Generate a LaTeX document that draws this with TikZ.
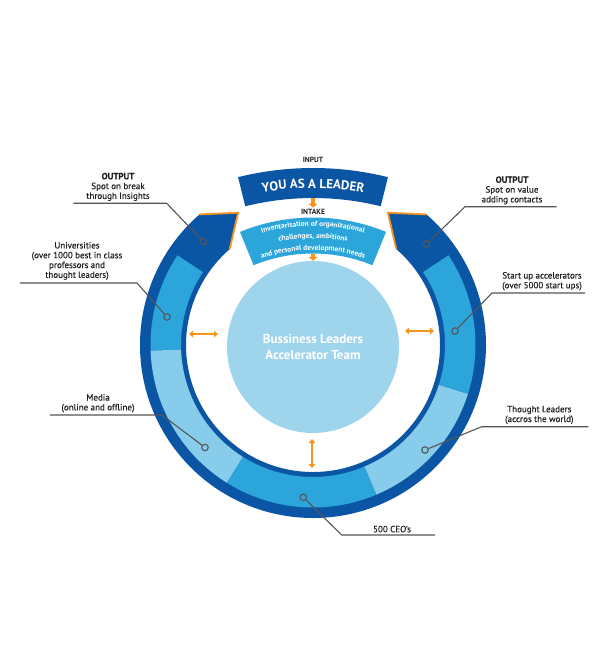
\documentclass[tikz,border=0pt]{standalone}
\usepackage{fontspec}
\setmainfont{PT Sans}
\newfontfamily\calloutfont{PT Sans}[FakeBold=0.5]
\usetikzlibrary{arrows.meta,positioning,decorations.text}
\definecolor{dkblue}{RGB}{11,85,165}
\definecolor{mdblue}{RGB}{44,165,218}
\definecolor{ltblue}{RGB}{135,204,234}
\definecolor{hubblue}{RGB}{158,212,236}
\definecolor{accent}{RGB}{247,148,29}
\definecolor{wire}{RGB}{85,85,88}
\definecolor{ink}{RGB}{35,31,32}
\newcommand\leadfont{\color{white}\bfseries\fontsize{13}{13}\selectfont}
\newcommand\intakefont{\color{white}\bfseries\fontsize{7.4}{9}\selectfont}
\tikzset{
  label/.style={align=center,inner sep=0pt,text=ink,
    font=\calloutfont\fontsize{9}{9.8}\selectfont},
  tag/.style={inner sep=1pt,text=ink,font=\bfseries\fontsize{7.5}{8}\selectfont},
  wire/.style={draw=wire,line width=1.1pt},
  dot/.style={circle,draw=wire,line width=1.1pt,minimum size=6.5pt,inner sep=0pt},
  hub/.style={circle,fill=hubblue,minimum size=172pt,inner sep=0pt,text=white,
    align=center,font=\bfseries\fontsize{13}{16}\selectfont},
  twoway/.style={draw=accent,line width=1.8pt,
    {Triangle[length=4pt,width=6.5pt]}-{Triangle[length=4pt,width=6.5pt]}},
  feed/.style={draw=accent,line width=3.5pt,-{Triangle[length=4pt,width=9pt]}},
  tipedge/.style={draw=accent,line width=1.8pt,line join=miter}
}
\begin{document}
\begin{tikzpicture}[x=1pt,y=1pt]
\useasboundingbox (0,0) rectangle (611,-668);

% outer ring with its two arrow ends
\begin{scope}[shift={(313,-345)}]
\fill[dkblue] (119.5:152) -- (131:173) arc[start angle=131,end angle=409,radius=173]
  -- (60.5:152) -- (49:127) arc[start angle=49,end angle=-229,radius=127] -- cycle;
\foreach \a/\b/\c in {146.5/182/mdblue,182/238/ltblue,238/293/mdblue,
                      293/342.5/ltblue,342.5/393.5/mdblue}
  \fill[\c] (\a:162.5) arc[start angle=\a,end angle=\b,radius=162.5]
    -- (\b:132) arc[start angle=\b,end angle=\a,radius=132] -- cycle;
\draw[tipedge] (131:173) -- (119.5:152) -- (131:127);
\draw[tipedge] (49:173) -- (60.5:152) -- (49:127);
\end{scope}

% leader banner
\begin{scope}[shift={(313,-480)}]
\fill[dkblue] (103.9:312) arc[start angle=103.9,end angle=76.1,radius=312]
  -- (76.1:282) arc[start angle=76.1,end angle=103.9,radius=282] -- cycle;
\path[decorate,decoration={text along path,text align=center,
  text={|\leadfont|YOU AS A LEADER}}] (103.9:292) arc[start angle=103.9,end angle=76.1,radius=292];
\coordinate (lead) at (90:282);
\end{scope}

% intake banner
\begin{scope}[shift={(313,-410)}]
\fill[mdblue] (112.3:192.5) arc[start angle=112.3,end angle=67.7,radius=192.5]
  -- (67.7:156.5) arc[start angle=67.7,end angle=112.3,radius=156.5] -- cycle;
\path[decorate,decoration={text along path,text align=center,
  text={|\intakefont|Inventarisation of organizational}}] (112.3:184) arc[start angle=112.3,end angle=67.7,radius=184];
\path[decorate,decoration={text along path,text align=center,
  text={|\intakefont|challenges, ambitions}}] (112.3:172) arc[start angle=112.3,end angle=67.7,radius=172];
\path[decorate,decoration={text along path,text align=center,
  text={|\intakefont|and personal development needs}}] (112.3:160) arc[start angle=112.3,end angle=67.7,radius=160];
\coordinate (needs) at (90:156.5);
\end{scope}

\node[tag] (input) at (313,-160) {INPUT};
\node[tag] (intake) at (313,-211.5) {INTAKE};
\node[hub] (hub) at (313,-347) {Bussiness Leaders\\Accelerator Team};
\draw[feed] (lead) -- (intake.north);
\draw[feed] (needs) -- (hub.north);

% exchange arrows
\coordinate (w1) at (189,-334); \coordinate (w2) at (218,-334);
\coordinate (e1) at (405,-331); \coordinate (e2) at (434,-331);
\coordinate (s1) at (312,-439); \coordinate (s2) at (312,-468);
\draw[twoway] (w1) -- (w2); \draw[twoway] (e1) -- (e2); \draw[twoway] (s1) -- (s2);

% callouts
\node[dot] (d-outl) at (203.3,-241.7) {};
\coordinate (k-outl) at (166.7,-203.3); \coordinate (e-outl) at (73.3,-203.3);
\draw[wire] (d-outl) -- (k-outl) -- (e-outl);
\node[label,anchor=south] (t-outl) at (118,-201) {\textbf{OUTPUT}\\Spot on break\\through Insights};

\node[dot] (d-uni) at (167,-317) {};
\coordinate (k-uni) at (137,-283); \coordinate (e-uni) at (20,-283);
\draw[wire] (d-uni) -- (k-uni) -- (e-uni);
\node[label,anchor=south] (t-uni) at (77,-280) {Universities\\(over 1000 best in class\\professors and\\thought leaders)};

\node[dot] (d-media) at (205,-447.5) {};
\coordinate (k-media) at (162,-415); \coordinate (e-media) at (50,-415);
\draw[wire] (d-media) -- (k-media) -- (e-media);
\node[label,anchor=south] (t-media) at (98,-412.5) {Media\\(online and offline)};

\node[dot] (d-ceo) at (303.3,-497.3) {};
\coordinate (k-ceo) at (341.7,-535); \coordinate (e-ceo) at (435,-535);
\draw[wire] (d-ceo) -- (k-ceo) -- (e-ceo);
\node[label,anchor=south] (t-ceo) at (392,-532.5) {500 CEO’s};

\node[dot] (d-thought) at (425,-450) {};
\coordinate (k-thought) at (481.7,-426.7); \coordinate (e-thought) at (588.3,-426.7);
\draw[wire] (d-thought) -- (k-thought) -- (e-thought);
\node[label,anchor=south] (t-thought) at (539.3,-424.2) {Thought Leaders\\(accros the world)};

\node[dot] (d-start) at (455,-331) {};
\coordinate (k-start) at (492,-293); \coordinate (e-start) at (585,-293);
\draw[wire] (d-start) -- (k-start) -- (e-start);
\node[label,anchor=south] (t-start) at (542,-290.5) {Start up accelerators\\(over 5000 start ups)};

\node[dot] (d-outr) at (426.7,-244) {};
\coordinate (k-outr) at (465,-206.7); \coordinate (e-outr) at (556.7,-206.7);
\draw[wire] (d-outr) -- (k-outr) -- (e-outr);
\node[label,anchor=south] (t-outr) at (512,-204.5) {\textbf{OUTPUT}\\Spot on value\\adding contacts};
\end{tikzpicture}
\end{document}
